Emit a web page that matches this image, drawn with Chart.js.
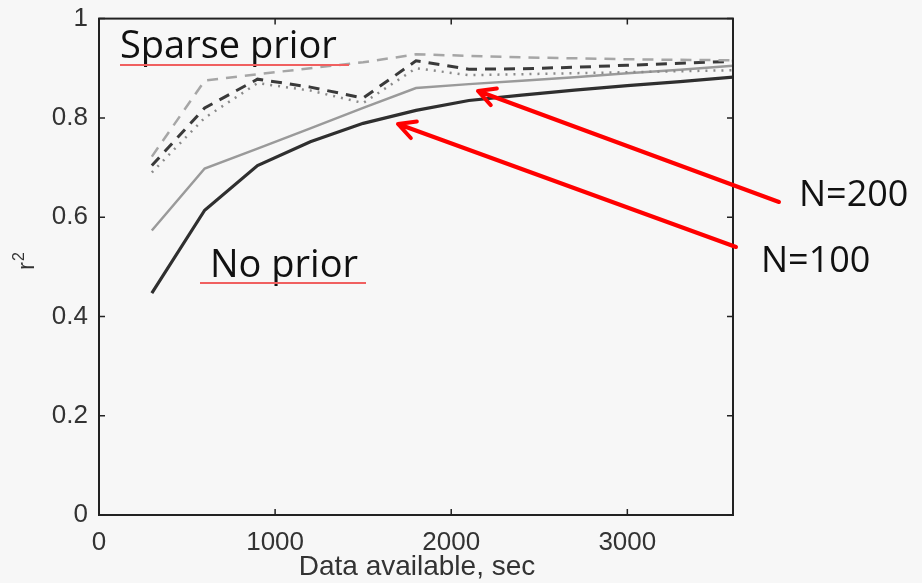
<!DOCTYPE html>
<html>
<head>
<meta charset="utf-8">
<script src="https://cdn.jsdelivr.net/npm/chart.js@4"></script>
<style>
    html, body { margin: 0; padding: 0; background: #f7f7f7; }
    #wrap { width: 922px; height: 583px; position: relative; }
</style>
</head>
<body>
<div id="wrap"><canvas id="r2Chart"></canvas></div>
<script>
// 학습 데이터 길이(초)에 따른 r^2
const seconds = [300, 600, 900, 1200, 1500, 1800, 2100, 2400, 2700, 3000, 3300, 3600];

const noPrior100 = [0.447, 0.614, 0.704, 0.752, 0.789, 0.815, 0.835, 0.846, 0.856, 0.865, 0.873, 0.882];
const noPrior200 = [0.573, 0.698, 0.738, 0.779, 0.820, 0.860, 0.868, 0.875, 0.882, 0.890, 0.897, 0.905];
const sparse200 = [0.722, 0.875, 0.888, 0.900, 0.912, 0.928, 0.925, 0.922, 0.920, 0.918, 0.917, 0.916];
const sparse100 = [0.704, 0.820, 0.878, 0.862, 0.840, 0.915, 0.898, 0.899, 0.902, 0.906, 0.910, 0.914];
const sparseDot = [0.690, 0.800, 0.870, 0.855, 0.830, 0.900, 0.886, 0.888, 0.890, 0.892, 0.894, 0.896];

const xTicks = [0, 1000, 2000, 3000];
const yTicks = [0, 0.2, 0.4, 0.6, 0.8, 1];

const toPoints = (ys) => ys.map((y, i) => ({ x: seconds[i], y }));

const axisFont = '"Liberation Sans", Arial, sans-serif';

/**
 * MATLAB 스타일 박스 + 안쪽 눈금 + 축 제목
 */
const boxPlugin = {
    id: 'boxAxes',
    afterDatasetsDraw(chart) {
        const { ctx, chartArea: a, scales } = chart;
        ctx.save();
        ctx.strokeStyle = '#222';
        ctx.lineWidth = 2;
        ctx.strokeRect(a.left, a.top, a.right - a.left, a.bottom - a.top);
        ctx.lineWidth = 1.5;
        const t = 6;
        xTicks.forEach((v) => {
            const px = scales.x.getPixelForValue(v);
            ctx.beginPath();
            ctx.moveTo(px, a.bottom); ctx.lineTo(px, a.bottom - t);
            ctx.moveTo(px, a.top); ctx.lineTo(px, a.top + t);
            ctx.stroke();
        });
        yTicks.forEach((v) => {
            const py = scales.y.getPixelForValue(v);
            ctx.beginPath();
            ctx.moveTo(a.left, py); ctx.lineTo(a.left + t, py);
            ctx.moveTo(a.right, py); ctx.lineTo(a.right - t, py);
            ctx.stroke();
        });

        // 축 제목
        ctx.fillStyle = '#333';
        ctx.textAlign = 'center';
        ctx.textBaseline = 'middle';
        ctx.font = `28px ${axisFont}`;
        ctx.fillText('Data available, sec', (a.left + a.right) / 2 + 1, 567);

        ctx.translate(30, 266);
        ctx.rotate(-Math.PI / 2);
        ctx.textAlign = 'left';
        ctx.textBaseline = 'alphabetic';
        ctx.font = `24px ${axisFont}`;
        ctx.fillText('r', -4, 4);
        ctx.font = `16px ${axisFont}`;
        ctx.fillText('2', 5, -6);
        ctx.restore();
    },
};

/**
 * 주석: 라벨, 밑줄, 화살표
 */
function drawArrow(ctx, x1, y1, x2, y2) {
    const ang = Math.atan2(y2 - y1, x2 - x1);
    const head = 19;
    const spread = 0.48;
    ctx.beginPath();
    ctx.moveTo(x1, y1);
    ctx.lineTo(x2, y2);
    ctx.moveTo(x2 + head * Math.cos(ang + Math.PI - spread), y2 + head * Math.sin(ang + Math.PI - spread));
    ctx.lineTo(x2, y2);
    ctx.lineTo(x2 + head * Math.cos(ang + Math.PI + spread), y2 + head * Math.sin(ang + Math.PI + spread));
    ctx.stroke();
}

const notePlugin = {
    id: 'notes',
    afterDraw(chart) {
        const { ctx } = chart;
        ctx.save();
        ctx.fillStyle = '#111';
        ctx.font = '38px "Open Sans", sans-serif';
        ctx.textBaseline = 'alphabetic';
        ctx.fillText('Sparse prior', 120, 58);
        ctx.fillText('No prior', 210, 277);
        ctx.font = '36px "Open Sans", sans-serif';
        ctx.fillText('N=200', 799, 206);
        ctx.fillText('N=100', 761, 272);

        ctx.strokeStyle = '#f06060';
        ctx.lineWidth = 2;
        ctx.beginPath();
        ctx.moveTo(120, 65); ctx.lineTo(349, 65);
        ctx.moveTo(200, 283); ctx.lineTo(366, 283);
        ctx.stroke();

        ctx.strokeStyle = '#ff0000';
        ctx.lineWidth = 4;
        ctx.lineCap = 'round';
        ctx.lineJoin = 'round';
        drawArrow(ctx, 779, 202, 478, 91);
        drawArrow(ctx, 736, 247, 398, 124);
        ctx.restore();
    },
};

const tickFont = { family: axisFont, size: 26 };

new Chart(document.getElementById('r2Chart'), {
    type: 'line',
    data: {
        datasets: [
            { data: toPoints(sparse200), borderColor: '#a6a6a6', borderWidth: 2.5, borderDash: [11, 8] },
            { data: toPoints(sparseDot), borderColor: '#8a8a8a', borderWidth: 2.5, borderDash: [2, 6] },
            { data: toPoints(sparse100), borderColor: '#3a3a3a', borderWidth: 3, borderDash: [11, 8] },
            { data: toPoints(noPrior200), borderColor: '#9a9a9a', borderWidth: 2.5 },
            { data: toPoints(noPrior100), borderColor: '#2f2f2f', borderWidth: 3.2 },
        ],
    },
    options: {
        responsive: true,
        maintainAspectRatio: false,
        animation: false,
        layout: { padding: { top: 17, right: 189, left: 0, bottom: 0 } },
        elements: { point: { radius: 0 }, line: { tension: 0 } },
        plugins: { legend: { display: false }, tooltip: { enabled: false } },
        scales: {
            x: {
                type: 'linear',
                min: 0,
                max: 3600,
                afterBuildTicks: (s) => { s.ticks = xTicks.map((v) => ({ value: v })); },
                afterFit: (s) => { s.height = 68; },
                grid: { display: false },
                border: { display: false },
                ticks: { color: '#333', font: tickFont, padding: 4, maxRotation: 0, callback: (v) => String(v) },
            },
            y: {
                min: 0,
                max: 1,
                afterBuildTicks: (s) => { s.ticks = yTicks.map((v) => ({ value: v })); },
                afterFit: (s) => { s.width = 99; },
                grid: { display: false },
                border: { display: false },
                ticks: { color: '#333', font: tickFont, padding: 3, callback: (v) => String(v) },
            },
        },
    },
    plugins: [boxPlugin, notePlugin],
});
</script>
</body>
</html>
